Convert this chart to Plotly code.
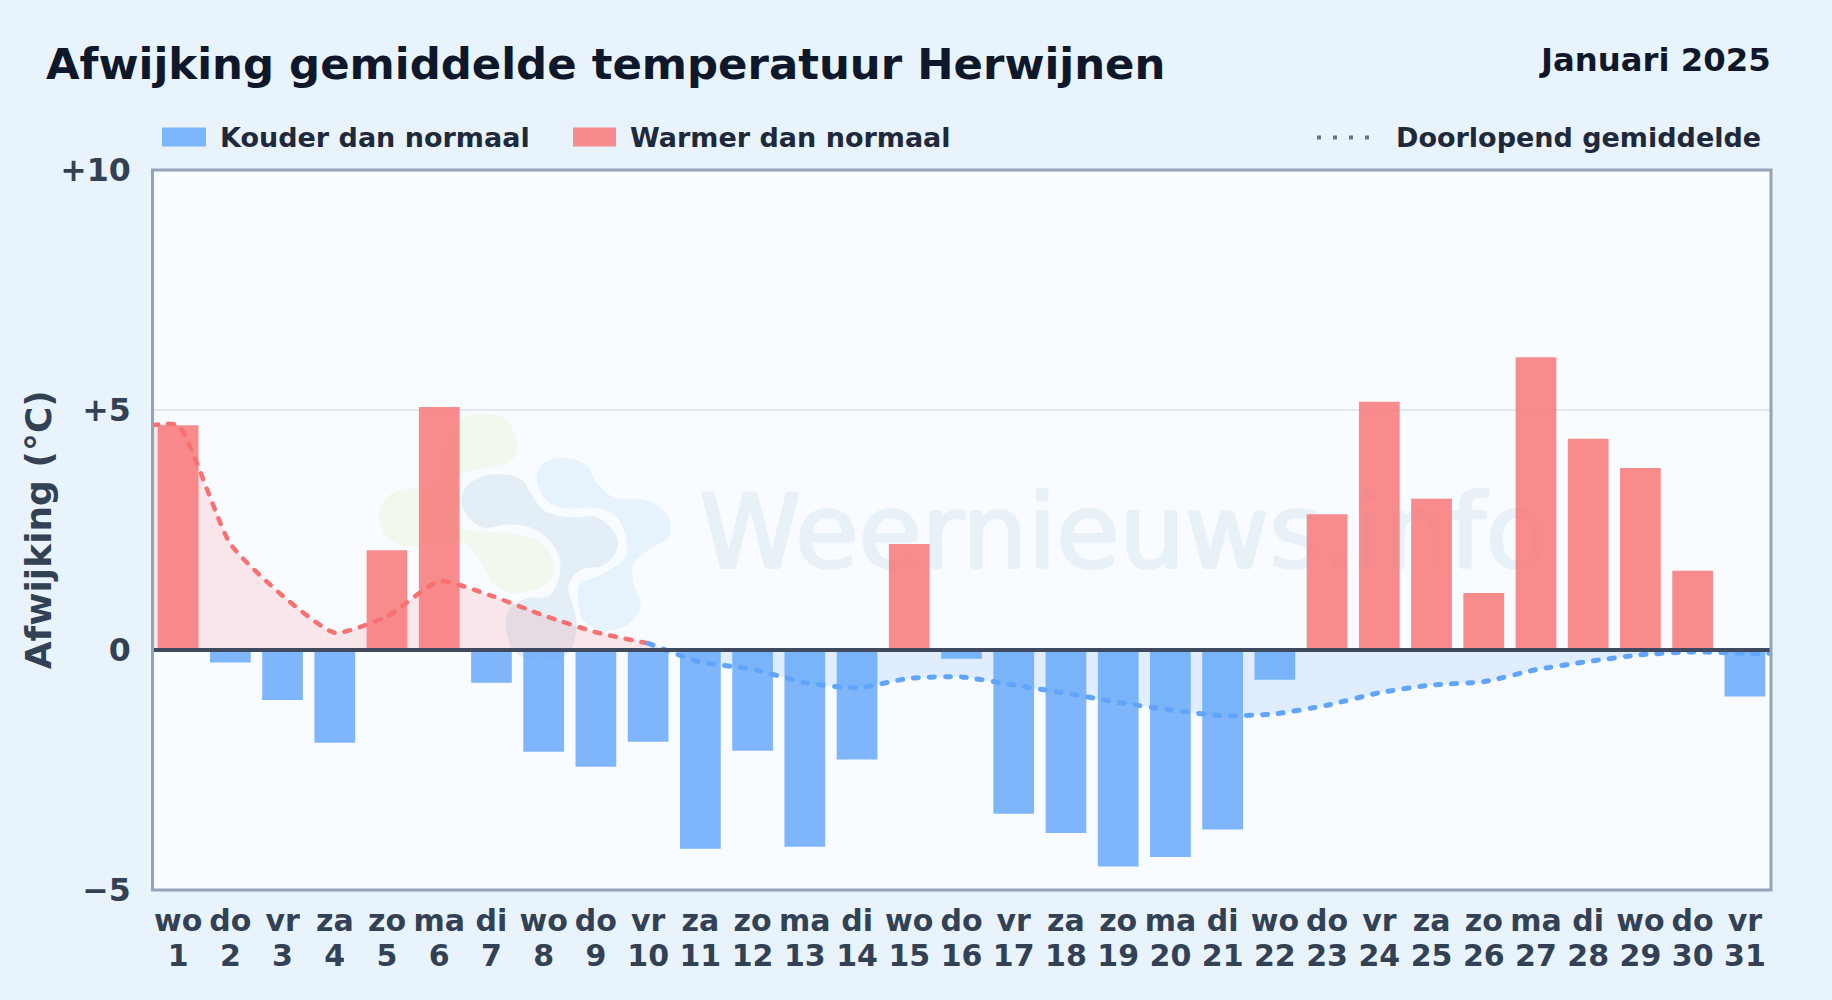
import plotly.graph_objects as go

# ---------- data ----------
weekdays = ["wo","do","vr","za","zo","ma","di","wo","do","vr","za","zo","ma","di","wo","do",
            "vr","za","zo","ma","di","wo","do","vr","za","zo","ma","di","wo","do","vr"]
days = list(range(1, 32))
deviation = [4.68,-0.26,-1.04,-1.93,2.08,5.06,-0.68,-2.12,-2.43,-1.91,-4.14,-2.10,-4.10,-2.28,
             2.21,-0.18,-3.41,-3.81,-4.51,-4.31,-3.74,-0.62,2.83,5.17,3.15,1.19,6.10,4.40,3.79,1.65,-0.97]
running_mean = [4.68,2.21,1.13,0.36,0.70,1.43,1.13,0.72,0.37,0.14,-0.25,-0.40,-0.68,-0.79,-0.59,-0.56,
                -0.73,-0.90,-1.09,-1.25,-1.37,-1.33,-1.15,-0.89,-0.73,-0.66,-0.41,-0.24,-0.10,-0.04,-0.07]
y_ticks = [-5, 0, 5, 10]
y_tick_labels = ["−5", "0", "+5", "+10"]

FONT = "DejaVu Sans"
W, H = 1832, 1000
L, R, T, B = 152, 1771, 169.5, 890

BLUE = "rgba(96,165,250,0.8)"
RED = "rgba(248,113,113,0.8)"
BLUE_LINE = "#60a5fa"
RED_LINE = "#f87171"

def px(x): return x / W
def py(y): return 1 - y / H
def plot_x(x): return (x - L) / (R - L)
def plot_y(y): return (B - y) / (B - T)

# watermark logo outlines, pixel positions on the page
def blob(points, color):
    pts = [(360 + a / 3, 400 + b / 3) for a, b in points]
    n = len(pts)
    d = "M%.5f,%.5f" % (plot_x(pts[0][0]), plot_y(pts[0][1]))
    for i in range(n):
        p0, p1, p2, p3 = pts[i - 1], pts[i], pts[(i + 1) % n], pts[(i + 2) % n]
        c1 = (p1[0] + (p2[0] - p0[0]) / 6, p1[1] + (p2[1] - p0[1]) / 6)
        c2 = (p2[0] - (p3[0] - p1[0]) / 6, p2[1] - (p3[1] - p1[1]) / 6)
        d += "C%.5f,%.5f %.5f,%.5f %.5f,%.5f" % (plot_x(c1[0]), plot_y(c1[1]), plot_x(c2[0]), plot_y(c2[1]), plot_x(p2[0]), plot_y(p2[1]))
    d += "Z"
    return dict(type="path", path=d, xref="x domain", yref="y domain", fillcolor=color,
                line=dict(width=0), layer="below")

green_blob = [(375,40),(440,60),(472,130),(450,185),(370,205),(300,225),(295,300),(300,380),(370,395),(450,400),
              (540,425),(582,490),(560,550),(480,578),(410,560),(370,500),(320,430),(240,435),(150,440),(85,415),
              (58,350),(80,290),(150,265),(215,255),(240,170),(270,90),(320,50)]
slate_blob = [(400,222),(480,235),(515,285),(560,335),(640,352),(710,350),(765,400),(770,450),(730,495),(660,510),
              (625,560),(640,620),(650,680),(625,760),(540,785),(470,760),(440,700),(445,630),(500,595),(570,585),
              (600,520),(590,450),(530,390),(450,372),(370,382),(320,345),(305,290),(335,245)]
sky_blob = [(610,172),(680,195),(710,250),(770,295),(860,300),(925,350),(925,410),(870,445),(820,490),(820,550),
            (842,620),(800,675),(730,692),(670,660),(655,600),(660,550),(720,525),(790,480),(800,420),(770,350),
            (700,322),(620,325),(560,300),(530,240),(550,190)]

# line and fill series: flat lead-in / lead-out to the plot edges
line_x = [0.5] + days + [31.5]
line_y = [running_mean[0]] + running_mean + [running_mean[-1]]
k = next(i for i, v in enumerate(line_y) if v < 0)
cross_x = line_x[k-1] + (line_x[k] - line_x[k-1]) * line_y[k-1] / (line_y[k-1] - line_y[k])

spline = dict(shape="spline", smoothing=0.55)
fig = go.Figure()
fig.add_bar(x=days, y=[v if v < 0 else None for v in deviation], marker=dict(color=BLUE, line=dict(width=0)),
            width=0.78, name="Kouder dan normaal")
fig.add_bar(x=days, y=[v if v >= 0 else None for v in deviation], marker=dict(color=RED, line=dict(width=0)),
            width=0.78, name="Warmer dan normaal")
fig.add_scatter(x=line_x[:k] + [cross_x], y=line_y[:k] + [0], mode="lines", fill="tozeroy",
                fillcolor="rgba(248,113,113,0.15)", line=dict(width=0, **spline), hoverinfo="skip", name="fill warm")
fig.add_scatter(x=[cross_x] + line_x[k:], y=[0] + line_y[k:], mode="lines", fill="tozeroy",
                fillcolor="rgba(96,165,250,0.16)", line=dict(width=0, **spline), hoverinfo="skip", name="fill koud")
fig.add_scatter(x=line_x[:k], y=line_y[:k], mode="lines", name="Doorlopend gemiddelde",
                line=dict(color=RED_LINE, width=4.5, dash="6px,10px", **spline))
fig.add_scatter(x=line_x[k-1:], y=line_y[k-1:], mode="lines", name="Doorlopend gemiddelde (koud)",
                line=dict(color=BLUE_LINE, width=5, dash="5px,11px", **spline))
# carrier for the second row of x labels (day numbers)
fig.add_scatter(x=days, y=deviation, xaxis="x2", mode="lines", opacity=0, line=dict(width=0),
                hoverinfo="skip", showlegend=False, name="dagnummers")

shapes = [blob(green_blob, "#F1F8EE"), blob(slate_blob, "#E4EEF7"), blob(sky_blob, "#E6F3FD")]
# watermark text, below the marks
WM = "#E8F0F8"
shapes.append(dict(type="rect", xref="paper", yref="paper", x0=plot_x(700), x1=plot_x(1548),
                   y0=plot_y(585), y1=plot_y(465), line=dict(width=0), fillcolor="rgba(0,0,0,0)", layer="below",
                   label=dict(text="Weernieuws.info", textposition="middle center",
                              font=dict(family=FONT, size=103, color=WM,
                                        shadow=f"1.5px 0 {WM}, -1.5px 0 {WM}, 0 1px {WM}, 0 -1px {WM}"))))
# zero line
shapes.append(dict(type="line", xref="paper", yref="y", x0=0, x1=1, y0=0, y1=0,
                   line=dict(color="#3F4A5F", width=4), layer="above"))
# plot frame
shapes.append(dict(type="rect", xref="paper", yref="paper", x0=plot_x(152.5), x1=1, y0=0, y1=1,
                   line=dict(color="#94A3B8", width=3), fillcolor="rgba(0,0,0,0)", layer="above"))
# legend keys
shapes.append(dict(type="rect", xref="paper", yref="paper", x0=plot_x(162), x1=plot_x(206), y0=plot_y(146), y1=plot_y(127),
                   fillcolor=BLUE, line=dict(width=0)))
shapes.append(dict(type="rect", xref="paper", yref="paper", x0=plot_x(573), x1=plot_x(616), y0=plot_y(146), y1=plot_y(127),
                   fillcolor=RED, line=dict(width=0)))
shapes.append(dict(type="line", xref="paper", yref="paper", x0=plot_x(1317), x1=plot_x(1374), y0=plot_y(137), y1=plot_y(137),
                   line=dict(color="#64748B", width=4, dash="4px,12px")))

def note(text, x, y, size, color, anchor="left", angle=0):
    return dict(text=text, xref="paper", yref="paper", x=plot_x(x), y=plot_y(y), xanchor=anchor, yanchor="middle",
                showarrow=False, textangle=angle, font=dict(family=FONT, size=size, color=color, weight="bold"))

annotations = [
    note("Januari 2025", 1773, 59, 32.3, "#0F172A", "right"),
    note("Kouder dan normaal", 217.5, 137, 27, "#1E293B"),
    note("Warmer dan normaal", 628, 137, 27, "#1E293B"),
    note("Doorlopend gemiddelde", 1763, 137, 27, "#1E293B", "right"),
    note("Afwijking (°C)", 38, 530, 36, "#334155", "center", -90),
]

tick_font = dict(family=FONT, size=30, color="#334155", weight="bold")
fig.update_layout(
    width=W, height=H, autosize=False, showlegend=False, barmode="overlay",
    margin=dict(l=L, r=W - R, t=T, b=H - B, pad=0),
    paper_bgcolor="#E9F3FC", plot_bgcolor="#F8FBFF",
    title=dict(text="Afwijking gemiddelde temperatuur Herwijnen", x=px(46), xanchor="left", y=py(64), yanchor="middle",
               font=dict(family=FONT, size=43.4, color="#0F172A", weight="bold")),
    shapes=shapes, annotations=annotations,
    xaxis=dict(range=[0.5, 31.5], tickmode="array", tickvals=days, ticktext=weekdays,
               tickangle=0, showgrid=False, zeroline=False, ticks="outside", ticklen=4, tickcolor="rgba(0,0,0,0)",
               showline=False, tickfont=tick_font),
    xaxis2=dict(range=[0.5, 31.5], overlaying="x", anchor="y", side="bottom", tickmode="array", tickvals=days,
                ticktext=[str(d) for d in days], tickangle=0, showgrid=False, zeroline=False,
                ticks="outside", ticklen=39, tickcolor="rgba(0,0,0,0)", showline=False, tickfont=tick_font),
    yaxis=dict(range=[-5, 10], tickmode="array", tickvals=y_ticks, ticktext=y_tick_labels,
               showgrid=True, gridcolor="#E2E8F0", gridwidth=2, zeroline=False,
               ticks="outside", ticklen=14, tickcolor="rgba(0,0,0,0)", showline=False,
               tickfont=dict(family=FONT, size=31.6, color="#334155", weight="bold")),
)
fig.write_html("out.html", config=dict(displayModeBar=False),
               post_script="document.body.style.margin='0';document.documentElement.style.overflow='hidden';"
                           "gd=document.querySelector('.plotly-graph-div');"
                           "gd.querySelectorAll('.scatterlayer .js-line').forEach(function(p){p.style.strokeLinecap='round';});")
